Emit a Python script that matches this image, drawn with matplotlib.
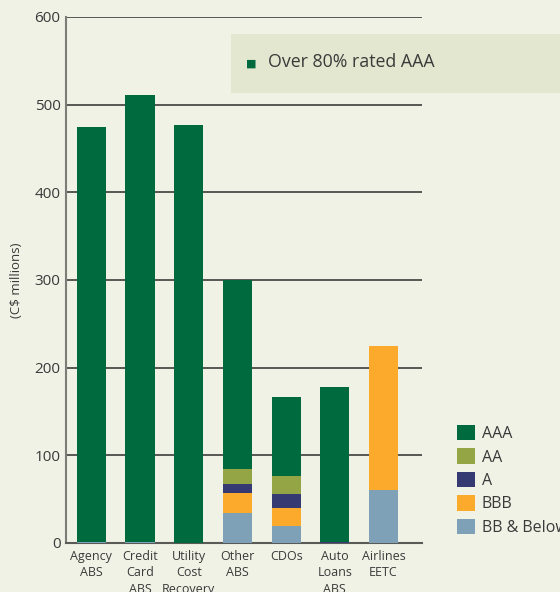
import matplotlib
matplotlib.use("Agg")
from matplotlib import pyplot as plt
from matplotlib.patches import Rectangle
import numpy as np

# categorias y valores por calificacion (C$ millones)
categorias = ["Agency\nABS", "Credit\nCard\nABS", "Utility\nCost\nRecovery", "Other\nABS",
              "CDOs", "Auto\nLoans\nABS", "Airlines\nEETC"]
bb_below = [1, 1, 0, 34, 19, 0, 61]
bbb = [0, 0, 0, 23, 21, 0, 164]
a_ = [0, 0, 0, 10, 16, 1.5, 0]
aa = [0, 0, 0, 17, 20, 0, 0]
aaa = [474, 510, 477, 216, 90, 176.5, 0]

series = [("BB & Below", bb_below, "#7ea1b8"),
          ("BBB", bbb, "#fbaa2c"),
          ("A", a_, "#353a72"),
          ("AA", aa, "#93a545"),
          ("AAA", aaa, "#006a3f")]

fondo = "#f1f2e6"
plt.rcParams['font.family'] = ['Open Sans', 'DejaVu Sans']

fig = plt.figure(figsize=(5.6, 5.92), dpi=100, facecolor=fondo)
ax = fig.add_axes([0.1179, 0.0828, 0.6357, 0.8885])
ax.set_facecolor(fondo)

x = np.arange(len(categorias))
base = np.zeros(len(categorias))
handles = {}
for nombre, vals, color in series:
    vals = np.array(vals, dtype=float)
    b = ax.bar(x, vals, 0.6, bottom=base, color=color, zorder=3, linewidth=0)
    handles[nombre] = b
    base += vals

ax.set_xlim(-0.52, 6.79)
ax.set_ylim(0, 600)
ax.set_yticks(range(0, 601, 100))
ax.yaxis.grid(True, color="#4a4a48", linewidth=1.3, zorder=1)
ax.set_axisbelow(True)
ax.tick_params(axis="y", length=0, labelsize=11, colors="#3a3a3a", pad=4)
ax.tick_params(axis="x", length=0, labelsize=9, colors="#3a3a3a", pad=5)
ax.set_xticks(x)
ax.set_xticklabels(categorias, linespacing=1.35)
for s in ["top", "right"]:
    ax.spines[s].set_visible(False)
ax.spines["left"].set_color("#7d7d78")
ax.spines["left"].set_linewidth(1.5)
ax.spines["bottom"].set_color("#5a5a56")
ax.spines["bottom"].set_linewidth(1.5)
ax.set_ylabel("(C$ millions)", fontsize=9.5, color="#3a3a3a", labelpad=8)

# leyenda
orden = ["AAA", "AA", "A", "BBB", "BB & Below"]
leg = fig.legend([handles[n] for n in orden], orden, loc="upper left",
                 bbox_to_anchor=(0.805, 0.293), frameon=False, fontsize=11.5,
                 handlelength=1.1, handleheight=1.1, handletextpad=0.45,
                 labelspacing=0.4, borderaxespad=0, labelcolor="#3a3a3a")

# recuadro de nota
fig.patches.append(Rectangle((231 / 560, 1 - 92.5 / 592), 329 / 560, 58.5 / 592,
                             transform=fig.transFigure, facecolor="#e3e7cf",
                             edgecolor="none", zorder=5))
fig.text(251.5 / 560, 1 - 63.5 / 592, "\u25a0", fontsize=8, color="#006a3f",
         ha="center", va="center", zorder=6, family="DejaVu Sans")
fig.text(268 / 560, 1 - 62 / 592, "Over 80% rated AAA", fontsize=12.8,
         color="#3a3a3a", ha="left", va="center", zorder=6)

fig.savefig("out.png", dpi=100, facecolor=fondo)
